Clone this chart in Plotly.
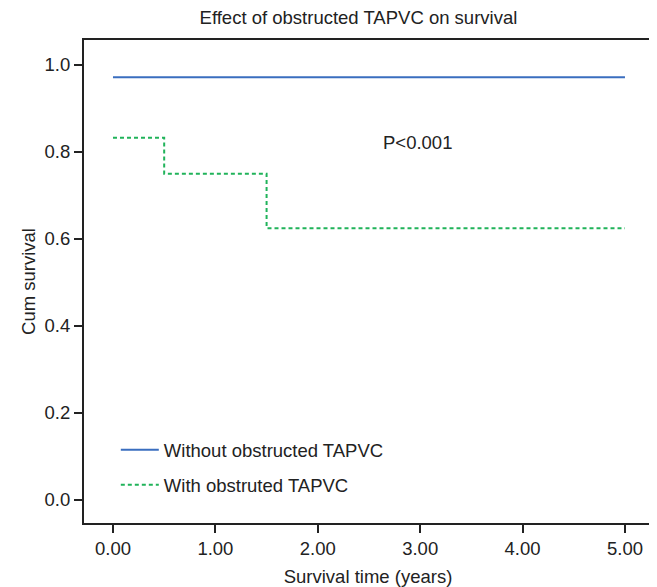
import plotly.graph_objects as go

# Data
without_time = [0.0, 5.0]
without_surv = [0.972, 0.972]
with_time = [0.0, 0.5, 1.5, 5.0]
with_surv = [0.833, 0.75, 0.625, 0.625]
x_ticks = [0, 1, 2, 3, 4, 5]
x_tick_labels = ["0.00", "1.00", "2.00", "3.00", "4.00", "5.00"]
y_ticks = [0.0, 0.2, 0.4, 0.6, 0.8, 1.0]
y_tick_labels = ["0.0", "0.2", "0.4", "0.6", "0.8", "1.0"]

FONT = "Liberation Sans, Arial, sans-serif"
FS = 18.5
BLUE = "#3a6ebf"
GREEN = "#20b35a"
TXT = "#222222"

fig = go.Figure()
fig.add_trace(go.Scatter(
    x=without_time, y=without_surv, mode="lines", line_shape="hv",
    line=dict(color=BLUE, width=2), name="Without obstructed TAPVC", legendgroup="a"))
fig.add_trace(go.Scatter(
    x=with_time, y=with_surv, mode="lines", line_shape="hv",
    line=dict(color=GREEN, width=2, dash="4px,3px"), name="With obstruted TAPVC", legendgroup="b"))

fig.add_annotation(x=2.97, y=0.823, text="P<0.001", showarrow=False,
                   font=dict(family=FONT, size=FS, color=TXT))

# page body has an 8px margin, so the figure is sized/offset to compensate
fig.update_layout(
    width=649, height=579,
    margin=dict(l=76, r=5, t=32, b=64, autoexpand=False),
    paper_bgcolor="white", plot_bgcolor="white",
    font=dict(family=FONT, size=FS, color=TXT),
    title=dict(text="Effect of obstructed TAPVC on survival", x=0.540, xanchor="center",
               y=0.983, yanchor="middle", font=dict(family=FONT, size=FS, color=TXT)),
    showlegend=True,
    legend=dict(x=0.056, y=0.19, xanchor="left", yanchor="top",
                bgcolor="rgba(0,0,0,0)", font=dict(family=FONT, size=FS, color=TXT),
                itemwidth=38, tracegroupgap=8),
)
fig.update_xaxes(range=[-0.283, 5.264], tickvals=x_ticks, ticktext=x_tick_labels,
                 automargin=False,
                 showgrid=False, zeroline=False, showline=True, linecolor=TXT, linewidth=2,
                 mirror=True, ticks="outside", ticklen=8, tickwidth=2, tickcolor=TXT,
                 title=dict(text="Survival time (years)", standoff=14,
                            font=dict(family=FONT, size=FS, color=TXT)))
fig.update_yaxes(range=[-0.0529, 1.0575], tickvals=y_ticks, ticktext=y_tick_labels,
                 automargin=False,
                 showgrid=False, zeroline=False, showline=True, linecolor=TXT, linewidth=2,
                 mirror=True, ticks="outside", ticklen=8, tickwidth=2, tickcolor=TXT,
                 title=dict(text="Cum survival", standoff=4,
                            font=dict(family=FONT, size=FS, color=TXT)))

fig.write_html("out.html")
